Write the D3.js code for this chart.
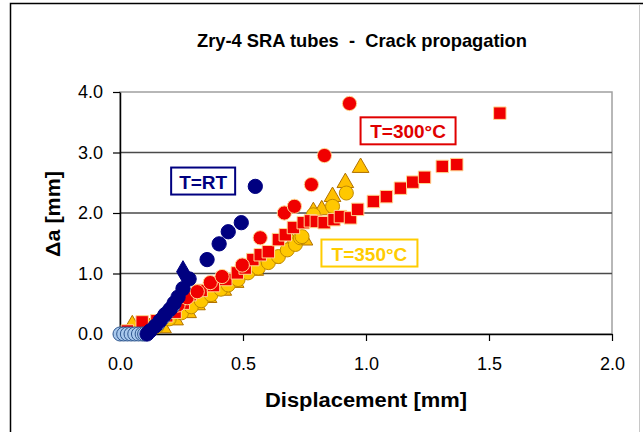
<!DOCTYPE html>
<html>
<head>
<meta charset="utf-8">
<script src="https://cdn.jsdelivr.net/npm/d3@7"></script>
<style>
  body { margin: 0; background: #fff; }
  text { font-family: "Liberation Sans", Arial, sans-serif; }
</style>
</head>
<body>
<div id="chart"></div>
<script>
// data, [displacement mm, delta a mm]
const rtCircles = [[0.11,0],[0.122,0.05],[0.143,0.13],[0.163,0.22],[0.183,0.32],[0.204,0.41],[0.22,0.51],[0.236,0.61],[0.256,0.75],[0.281,0.91],[0.354,1.23],[0.403,1.49],[0.44,1.69],[0.493,1.84],[0.55,2.44]];
const rtDiamond = [[0.256,1.03]];
const rtLight = [[0.0,0],[0.015,0],[0.03,0],[0.045,0],[0.06,0],[0.075,0],[0.09,0],[0.1,0],[0.155,0.17],[0.175,0.27],[0.195,0.37],[0.215,0.46]];
const t300Circles = [[0.18,0.3],[0.236,0.48],[0.273,0.6],[0.314,0.70],[0.367,0.85],[0.415,0.95],[0.497,1.14],[0.57,1.59],[0.668,2.0],[0.709,2.11],[0.778,2.47],[0.831,2.95],[0.933,3.81]];
const t300Squares = [[0.03,0.05],[0.09,0.2],[0.15,0.22],[0.19,0.3],[0.224,0.36],[0.257,0.51],[0.285,0.65],[0.33,0.72],[0.38,0.8],[0.43,0.9],[0.477,1.01],[0.509,1.09],[0.54,1.23],[0.57,1.31],[0.603,1.36],[0.644,1.56],[0.672,1.64],[0.705,1.76],[0.745,1.84],[0.774,1.87],[0.798,1.86],[0.83,1.84],[0.87,1.89],[0.896,1.94],[0.937,1.92],[0.966,2.06],[1.03,2.19],[1.083,2.27],[1.14,2.41],[1.19,2.51],[1.238,2.59],[1.31,2.77],[1.369,2.8],[1.544,3.65]];
const t350Circles = [[0.1,0.05],[0.15,0.12],[0.2,0.25],[0.25,0.35],[0.29,0.45],[0.33,0.55],[0.37,0.65],[0.41,0.74],[0.44,0.81],[0.48,0.9],[0.52,1.01],[0.562,1.09],[0.603,1.18],[0.644,1.28],[0.68,1.39],[0.713,1.48],[0.733,1.59],[0.74,1.61],[0.786,1.97],[0.864,2.11],[0.92,2.33]];
const t350Triangles = [[0.05,0.15],[0.12,0.1],[0.175,0.1],[0.224,0.23],[0.277,0.35],[0.313,0.48],[0.36,0.6],[0.42,0.72],[0.47,0.85],[0.55,1.05],[0.62,1.25],[0.7,1.5],[0.75,1.55],[0.786,2.02],[0.82,2.05],[0.864,2.27],[0.916,2.5],[0.978,2.75]];

const xTicks = [0, 0.5, 1.0, 1.5, 2.0];
const yTicks = [0, 1, 2, 3, 4];
const labels = [
  {text: 'T=RT', x: 0.338, y: 2.52, color: '#000080', w: 64},
  {text: 'T=300°C', x: 1.171, y: 3.35, color: '#e00000', w: 95},
  {text: 'T=350°C', x: 1.014, y: 1.33, color: '#ffcc00', w: 96}
];

const W = 643, H = 432;
const margin = {top: 92, right: 31, bottom: 98, left: 120};
const width = W - margin.left - margin.right;
const height = H - margin.top - margin.bottom;

const svg = d3.select('#chart').append('svg')
    .attr('width', W)
    .attr('height', H);

// outer chart frame
svg.append('path')
    .attr('d', 'M10.5,440V3.5H643')
    .attr('fill', 'none').attr('stroke', '#000').attr('stroke-width', 1.5);
svg.append('line')
    .attr('x1', 639.5).attr('x2', 639.5).attr('y1', 4).attr('y2', 432)
    .attr('stroke', '#c8c8c8').attr('stroke-width', 1);

svg.append('text')
    .attr('x', 362).attr('y', 47)
    .attr('text-anchor', 'middle')
    .attr('font-size', 19).attr('font-weight', 'bold')
    .attr('textLength', 330).attr('lengthAdjust', 'spacingAndGlyphs')
    .attr('xml:space', 'preserve')
    .text('Zry-4 SRA tubes  -  Crack propagation');

const g = svg.append('g')
    .attr('transform', 'translate(' + margin.left + ',' + margin.top + ')');

const x = d3.scaleLinear().domain([0, 2]).range([0, width]);
const y = d3.scaleLinear().domain([0, 4]).range([height, 0]);

// plot border (top/right grey)
g.append('rect')
    .attr('width', width).attr('height', height)
    .attr('fill', 'none').attr('stroke', '#a0a0a0').attr('stroke-width', 1.5);

// gridlines
g.append('g').selectAll('line')
    .data(yTicks.filter(d => d > 0 && d < 4))
    .join('line')
    .attr('x1', 0).attr('x2', width)
    .attr('y1', d => y(d)).attr('y2', d => y(d))
    .attr('stroke', '#4a4a4a').attr('stroke-width', 1.5);

const xAxis = d3.axisBottom(x).tickValues(xTicks).tickFormat(d3.format('.1f')).tickSizeInner(7).tickSizeOuter(0).tickPadding(16);
const yAxis = d3.axisLeft(y).tickValues(yTicks).tickFormat(d3.format('.1f')).tickSizeInner(7).tickSizeOuter(0).tickPadding(10);

const gx = g.append('g')
    .attr('transform', 'translate(0,' + height + ')')
    .call(xAxis);
const gy = g.append('g').call(yAxis);

[gx, gy].forEach(a => {
  a.select('.domain').attr('stroke', '#000').attr('stroke-width', 1.5);
  a.selectAll('.tick line').attr('stroke', '#000').attr('stroke-width', 1.2);
  a.selectAll('.tick text').attr('font-size', 18).attr('fill', '#000')
    .style('font-family', '"Liberation Sans", Arial, sans-serif');
});

svg.append('text')
    .attr('x', 366).attr('y', 407)
    .attr('text-anchor', 'middle')
    .attr('font-size', 20).attr('font-weight', 'bold')
    .attr('textLength', 202).attr('lengthAdjust', 'spacingAndGlyphs')
    .text('Displacement [mm]');

svg.append('text')
    .attr('transform', 'translate(60,214) rotate(-90)')
    .attr('text-anchor', 'middle')
    .attr('font-size', 20).attr('font-weight', 'bold')
    .attr('textLength', 86).attr('lengthAdjust', 'spacingAndGlyphs')
    .text('\u0394a [mm]');

const plot = g.append('g');

function drawSymbols(data, type, size, fill, stroke, sw) {
  plot.append('g').selectAll('path')
    .data(data)
    .join('path')
    .attr('transform', d => 'translate(' + x(d[0]) + ',' + y(d[1]) + ')')
    .attr('d', d3.symbol().type(type).size(size))
    .attr('fill', fill)
    .attr('stroke', stroke)
    .attr('stroke-width', sw);
}

drawSymbols(t350Triangles, d3.symbolTriangle, 120, '#ffc000', '#b07000', 1);
drawSymbols(t350Circles, d3.symbolCircle, 155, '#ffc800', '#c08a00', 1);
drawSymbols(t300Squares, d3.symbolSquare, 155, '#f00000', '#ffd890', 1);
drawSymbols(t300Circles, d3.symbolCircle, 160, '#f00000', '#ffd890', 1);
drawSymbols(rtLight, d3.symbolCircle, 155, '#a8c8ec', '#305890', 1);
drawSymbols(rtCircles, d3.symbolCircle, 160, '#000080', '#000080', 1);
drawSymbols(rtDiamond, d3.symbolDiamond, 140, '#000080', '#000080', 1);

// series labels with boxes
labels.forEach(l => {
  const lg = g.append('g')
    .attr('transform', 'translate(' + x(l.x) + ',' + y(l.y) + ')');
  lg.append('rect')
    .attr('x', -l.w / 2).attr('y', -14)
    .attr('width', l.w).attr('height', 27)
    .attr('fill', '#fff').attr('stroke', l.color).attr('stroke-width', 2);
  lg.append('text')
    .attr('text-anchor', 'middle')
    .attr('y', 7)
    .attr('font-size', 19).attr('font-weight', 'bold')
    .attr('fill', l.color)
    .text(l.text);
});
</script>
</body>
</html>
